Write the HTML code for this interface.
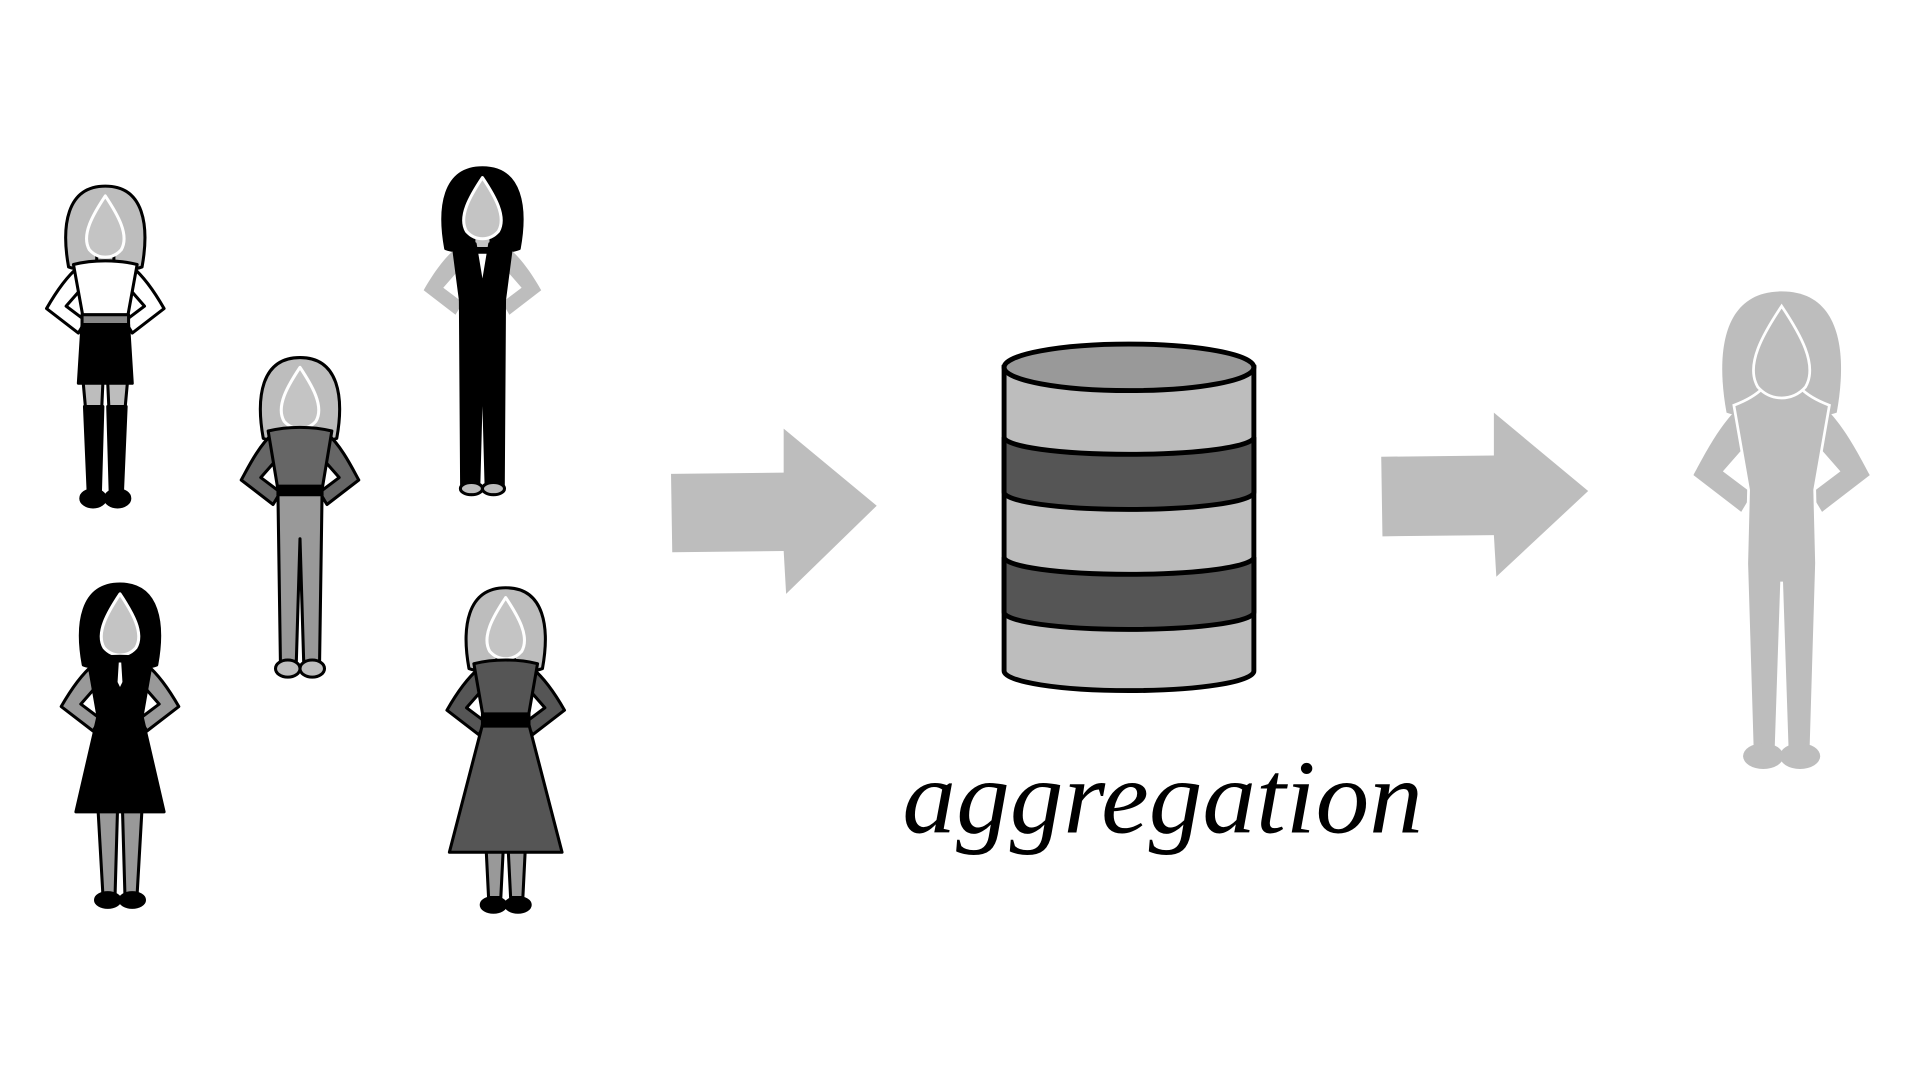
<!DOCTYPE html>
<html><head><meta charset="utf-8"><style>
html,body{margin:0;padding:0;background:#fff;width:1920px;height:1080px;overflow:hidden}
svg{display:block}
</style></head><body>
<svg width="1920" height="1080" viewBox="0 0 1568 882" preserveAspectRatio="none" xmlns="http://www.w3.org/2000/svg">
<rect width="1568" height="882" fill="#fff"/>

<!-- Figure 1 -->
<g transform="translate(86,150)" stroke="#000" stroke-width="2.5" stroke-linejoin="round">
 <path fill="#bdbdbd" d="M-30,68 C-36,35 -32,2 0,2 C32,2 36,35 30,68 C20,72 -20,72 -30,68Z"/>
 <rect fill="#c4c4c4" x="-7" y="50" width="14" height="18"/>
 <path fill="#c4c4c4" stroke="#fff" d="M0,10 C-10,25 -20,42 -13,54 C-6,62 6,62 13,54 C20,42 10,25 0,10Z"/>
 <path fill="#fff" d="M-22,68 C-34,78 -44,95 -48,102 L-22,122 L-16,112 L-32,100 L-18,84Z"/>
 <path fill="#fff" d="M22,68 C34,78 44,95 48,102 L22,122 L16,112 L32,100 L18,84Z"/>
 <path fill="#fff" d="M-26,66 C-10,62 10,62 26,66 L18,110 L-18,110Z"/>
 <rect fill="#888" x="-19" y="107" width="38" height="9"/>
 <path fill="#000" d="M-19,115 L19,115 L22,163 L-22,163Z"/>
 <path fill="#bdbdbd" d="M-18,163 L-2,163 L-3,185 L-16,185Z M2,163 L18,163 L16,185 L3,185Z"/>
 <path fill="#000" d="M-17,182 L-2,182 L-4,252 L-14,252Z M2,182 L17,182 L14,252 L4,252Z"/>
 <ellipse fill="#000" cx="-10" cy="257" rx="10" ry="7"/><ellipse fill="#000" cx="10" cy="257" rx="10" ry="7"/>
</g>

<!-- Figure 2 -->
<g transform="translate(245,290)" stroke="#000" stroke-width="2.5" stroke-linejoin="round">
 <path fill="#bdbdbd" d="M-30,68 C-36,35 -32,2 0,2 C32,2 36,35 30,68 C20,72 -20,72 -30,68Z"/>
 <rect fill="#c4c4c4" x="-7" y="50" width="14" height="18"/>
 <path fill="#c4c4c4" stroke="#fff" d="M0,10 C-10,25 -20,42 -13,54 C-6,62 6,62 13,54 C20,42 10,25 0,10Z"/>
 <path fill="#666" d="M-22,64 C-34,74 -44,95 -48,102 L-22,122 L-16,112 L-32,100 L-18,84Z"/>
 <path fill="#666" d="M22,64 C34,74 44,95 48,102 L22,122 L16,112 L32,100 L18,84Z"/>
 <path fill="#666" d="M-26,62 C-10,58 10,58 26,62 L18,110 L-18,110Z"/>
 <rect fill="#000" x="-18" y="107" width="36" height="7"/>
 <path fill="#999" d="M-18,114 L18,114 L16,250 L3,250 L0,150 L-3,250 L-16,250Z"/>
 <ellipse fill="#bdbdbd" cx="-10" cy="256" rx="10" ry="7"/><ellipse fill="#bdbdbd" cx="10" cy="256" rx="10" ry="7"/>
</g>

<!-- Figure 3 -->
<g transform="translate(394,135)" stroke="#000" stroke-width="2.5" stroke-linejoin="round">
 <path fill="#000" d="M-30,68 C-36,35 -32,2 0,2 C32,2 36,35 30,68 C20,72 -20,72 -30,68Z"/>
 <rect fill="#c4c4c4" x="-7" y="50" width="14" height="18"/>
 <path fill="#c4c4c4" stroke="#fff" d="M0,10 C-10,25 -20,42 -13,54 C-6,62 6,62 13,54 C20,42 10,25 0,10Z"/>
 <path fill="#bdbdbd" stroke="none" d="M-22,68 C-34,78 -44,95 -48,102 L-22,122 L-16,112 L-32,100 L-18,84Z"/>
 <path fill="#bdbdbd" stroke="none" d="M22,68 C34,78 44,95 48,102 L22,122 L16,112 L32,100 L18,84Z"/>
 <path fill="#000" d="M-24,64 L-6,64 L0,100 L6,64 L24,64 L18,110 L-18,110Z"/>
 <path fill="#000" d="M-18,110 L18,110 L17,262 L3,262 L0,150 L-3,262 L-17,262Z"/>
 <ellipse fill="#bdbdbd" cx="-9" cy="264" rx="9" ry="5"/><ellipse fill="#bdbdbd" cx="9" cy="264" rx="9" ry="5"/>
</g>

<!-- Figure 4 -->
<g transform="translate(98,475)" stroke="#000" stroke-width="2.5" stroke-linejoin="round">
 <path fill="#000" d="M-30,68 C-36,35 -32,2 0,2 C32,2 36,35 30,68 C20,72 -20,72 -30,68Z"/>
 <rect fill="#c4c4c4" x="-7" y="50" width="14" height="18"/>
 <path fill="#c4c4c4" stroke="#fff" d="M0,10 C-10,25 -20,42 -13,54 C-6,62 6,62 13,54 C20,42 10,25 0,10Z"/>
 <path fill="#999" d="M-22,68 C-34,78 -44,95 -48,102 L-22,122 L-16,112 L-32,100 L-18,84Z"/>
 <path fill="#999" d="M22,68 C34,78 44,95 48,102 L22,122 L16,112 L32,100 L18,84Z"/>
 <path fill="#999" d="M-18,185 L-2,185 L-4,255 L-14,255Z M2,185 L18,185 L14,255 L4,255Z"/>
 <path fill="#000" d="M-26,64 C-10,60 10,60 26,64 L18,110 L36,188 L-36,188 L-18,110Z"/>
 <path fill="#fff" stroke="none" d="M-1,66 L1,66 L2,82 L0,86 L-2,82Z"/>
 <ellipse fill="#000" cx="-10" cy="260" rx="10" ry="6"/><ellipse fill="#000" cx="10" cy="260" rx="10" ry="6"/>
</g>

<!-- Figure 5 -->
<g transform="translate(413,478)" stroke="#000" stroke-width="2.5" stroke-linejoin="round">
 <path fill="#bdbdbd" d="M-30,68 C-36,35 -32,2 0,2 C32,2 36,35 30,68 C20,72 -20,72 -30,68Z"/>
 <rect fill="#c4c4c4" x="-7" y="50" width="14" height="18"/>
 <path fill="#c4c4c4" stroke="#fff" d="M0,10 C-10,25 -20,42 -13,54 C-6,62 6,62 13,54 C20,42 10,25 0,10Z"/>
 <path fill="#555" d="M-22,68 C-34,78 -44,95 -48,102 L-22,122 L-16,112 L-32,100 L-18,84Z"/>
 <path fill="#555" d="M22,68 C34,78 44,95 48,102 L22,122 L16,112 L32,100 L18,84Z"/>
 <path fill="#999" d="M-16,215 L-2,215 L-4,255 L-14,255Z M2,215 L16,215 L14,255 L4,255Z"/>
 <path fill="#555" d="M-26,64 C-10,60 10,60 26,64 L18,110 L46,218 L-46,218 L-18,110Z"/>
 <rect fill="#000" x="-19" y="105" width="38" height="10"/>
 <ellipse fill="#000" cx="-10" cy="261" rx="10" ry="6"/><ellipse fill="#000" cx="10" cy="261" rx="10" ry="6"/>
</g>

<!-- Arrows -->
<path fill="#bdbdbd" d="M548,387 L640,386 L640,350 L716,413 L642,485 L640,450 L549,451Z"/>
<path fill="#bdbdbd" d="M1128,373 L1220,372 L1220,337 L1297,401 L1222,471 L1220,437 L1129,438Z"/>

<!-- Cylinder -->
<g stroke="#000" stroke-width="4">
 <path fill="#bdbdbd" d="M820,300 L820,548 A102,16 0 0 0 1024,548 L1024,300Z"/>
 <path fill="#555" d="M820,357 A102,14 0 0 0 1024,357 L1024,402 A102,14 0 0 1 820,402Z"/>
 <path fill="#555" d="M820,455 A102,14 0 0 0 1024,455 L1024,500 A102,14 0 0 1 820,500Z"/>
 <ellipse fill="#999" cx="922" cy="300" rx="102" ry="19"/>
</g>

<text x="737" y="680" font-family="Liberation Serif, serif" font-style="italic" font-size="86" textLength="425" lengthAdjust="spacingAndGlyphs" fill="#000">aggregation</text>

<!-- Result figure -->
<g transform="translate(1455,235) scale(1.5)" fill="#bdbdbd">
 <path d="M-30,68 C-36,35 -32,2 0,2 C32,2 36,35 30,68 C20,72 -20,72 -30,68Z"/>
 <path d="M-22,64 C-34,74 -44,95 -48,102 L-22,122 L-16,112 L-32,100 L-18,84Z"/>
 <path d="M22,64 C34,74 44,95 48,102 L22,122 L16,112 L32,100 L18,84Z"/>
 <path stroke="#fff" stroke-width="1.5" d="M-26,64 C-10,58 -6,50 -7,48 L7,48 C6,50 10,58 26,64 L18,110 L19,150 L16,250 L3,250 L0,160 L-3,250 L-16,250 L-19,150 L-18,110Z"/>
 <path stroke="#fff" stroke-width="1.5" d="M0,10 C-10,25 -20,42 -13,54 C-6,62 6,62 13,54 C20,42 10,25 0,10Z"/>
 <ellipse cx="-10" cy="255" rx="11" ry="7"/><ellipse cx="10" cy="255" rx="11" ry="7"/>
</g>
</svg>
</body></html>
